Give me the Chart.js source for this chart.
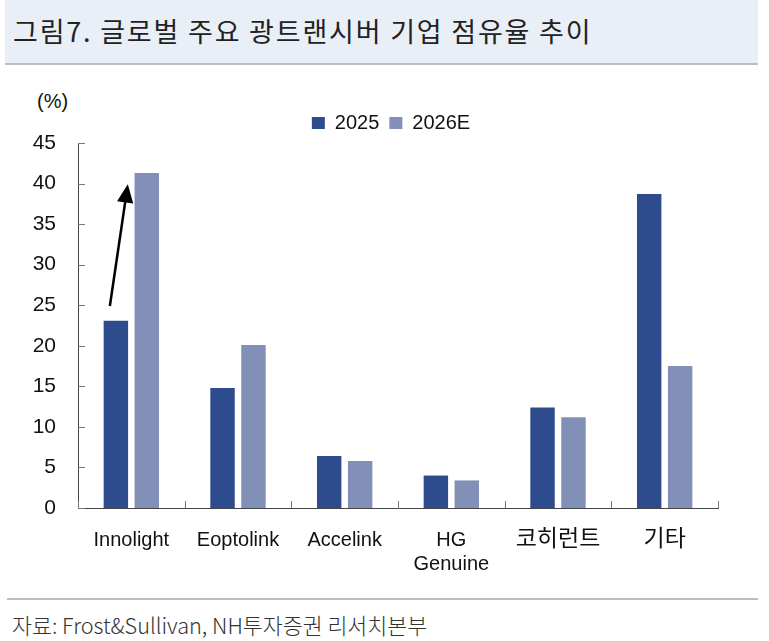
<!DOCTYPE html>
<html>
<head>
<meta charset="utf-8">
<script src="https://cdn.jsdelivr.net/npm/chart.js@4.4.1/dist/chart.umd.min.js"></script>
<style>
    body { margin: 0; background: #fff; width: 769px; height: 641px; overflow: hidden; position: relative; }
    .title-band { position: absolute; left: 5px; top: 0; width: 753px; height: 63px; background: #e9eff6; border-bottom: 2px solid #bdbdbd; }
    .title-band span { position: absolute; left: 8px; top: 13px; font-family: "Noto Sans CJK KR", sans-serif; font-size: 27px; letter-spacing: 1.8px; color: #222; line-height: 36px; }
    .unit { position: absolute; left: 37px; top: 90px; font-family: "Liberation Sans", sans-serif; font-size: 20px; color: #111; }
    .foot-line { position: absolute; left: 7px; top: 598px; width: 751px; height: 2px; background: #bdbdbd; }
    .source { position: absolute; left: 12px; top: 611px; font-family: "Noto Sans CJK KR", sans-serif; font-weight: 300; font-size: 21.7px; color: #333; line-height: 28px; }
    #wrap { position: absolute; left: 0; top: 0; width: 769px; height: 641px; }
</style>
</head>
<body>
<div class="title-band"><span>그림7. 글로벌 주요 광트랜시버 기업 점유율 추이</span></div>
<div class="unit">(%)</div>
<div class="foot-line"></div>
<div class="source">자료: Frost&amp;Sullivan, NH투자증권 리서치본부</div>
<div id="wrap"><canvas id="js--chart"></canvas></div>
<script>
const companies = ['Innolight', 'Eoptolink', 'Accelink', ['HG', 'Genuine'], '코히런트', '기타'];
const share2025 = [23.1, 14.8, 6.4, 4.0, 12.4, 38.7];
const share2026E = [41.3, 20.1, 5.8, 3.4, 11.2, 17.5];
const yTicks = [0, 5, 10, 15, 20, 25, 30, 35, 40, 45];

const axisFont = "'Liberation Sans', 'Noto Sans CJK KR', sans-serif";

// inner tick marks + arrow from Innolight 2025 to 2026E
const extras = {
    id: 'extras',
    afterLayout(chart) {
        // legend sits a little left of the plot centre in the original
        chart.legend.left -= 7;
        chart.legend.right -= 7;
    },
    afterDraw(chart) {
        const ctx = chart.ctx;
        const x = chart.scales.x;
        const y = chart.scales.y;
        ctx.save();
        ctx.strokeStyle = '#777';
        ctx.lineWidth = 1;
        yTicks.forEach(v => {
            const py = Math.round(y.getPixelForValue(v)) + 0.5;
            ctx.beginPath();
            ctx.moveTo(x.left, py);
            ctx.lineTo(x.left + 7, py);
            ctx.stroke();
        });
        for (let i = 0; i <= companies.length; i++) {
            const px = Math.round(x.getPixelForValue(i - 0.5)) + 0.5;
            ctx.beginPath();
            ctx.moveTo(px, y.bottom);
            ctx.lineTo(px, y.bottom - 7);
            ctx.stroke();
        }

        const barA = chart.getDatasetMeta(0).data[0];
        const barB = chart.getDatasetMeta(1).data[0];
        const x1 = barA.x - 6, y1 = y.getPixelForValue(share2025[0] + 1.8);
        const x2 = barB.x - 19, y2 = y.getPixelForValue(share2026E[0] - 1.4);
        const ang = Math.atan2(y2 - y1, x2 - x1);
        const head = 20;
        ctx.strokeStyle = '#000';
        ctx.fillStyle = '#000';
        ctx.lineWidth = 2.5;
        ctx.beginPath();
        ctx.moveTo(x1, y1);
        ctx.lineTo(x2 - head * 0.8 * Math.cos(ang), y2 - head * 0.8 * Math.sin(ang));
        ctx.stroke();
        ctx.beginPath();
        ctx.moveTo(x2, y2);
        ctx.lineTo(x2 - head * Math.cos(ang - 0.42), y2 - head * Math.sin(ang - 0.42));
        ctx.lineTo(x2 - head * Math.cos(ang + 0.42), y2 - head * Math.sin(ang + 0.42));
        ctx.closePath();
        ctx.fill();
        ctx.restore();
    }
};

const data = {
    labels: companies,
    datasets: [
        {
            label: '2025',
            data: share2025,
            backgroundColor: '#2e4b8e'
        },
        {
            label: '2026E',
            data: share2026E,
            backgroundColor: '#8290b8'
        }
    ]
};

const config = {
    type: 'bar',
    data: data,
    options: {
        responsive: true,
        maintainAspectRatio: false,
        animation: false,
        categoryPercentage: 0.58,
        barPercentage: 0.79,
        layout: {
            padding: { top: 103, right: 51, bottom: 43, left: 0 }
        },
        scales: {
            x: {
                grid: { display: false, drawTicks: false },
                border: { color: '#444', width: 1 },
                ticks: {
                    color: '#111',
                    padding: 20,
                    maxRotation: 0,
                    // the Korean names are set larger in the original
                    font: (c) => ({
                        family: axisFont,
                        size: c.index >= 4 ? 23 : 20,
                        lineHeight: c.index >= 4 ? 20 * 1.2 / 23 : 1.2
                    })
                },
                afterFit(scale) { scale.height = 90; }
            },
            y: {
                min: 0,
                max: 45,
                grid: { display: false, drawTicks: false },
                border: { color: '#444', width: 1 },
                afterBuildTicks(scale) { scale.ticks = yTicks.map(v => ({ value: v })); },
                ticks: {
                    color: '#111',
                    padding: 22,
                    font: { family: axisFont, size: 21 }
                },
                afterFit(scale) { scale.width = 78; }
            }
        },
        plugins: {
            legend: {
                position: 'top',
                fullSize: false,
                labels: {
                    color: '#111',
                    boxWidth: 13,
                    boxHeight: 12,
                    padding: 10,
                    font: { family: axisFont, size: 20 }
                }
            },
            tooltip: { enabled: false }
        }
    },
    plugins: [extras]
};

new Chart(document.getElementById('js--chart'), config);
</script>
</body>
</html>
